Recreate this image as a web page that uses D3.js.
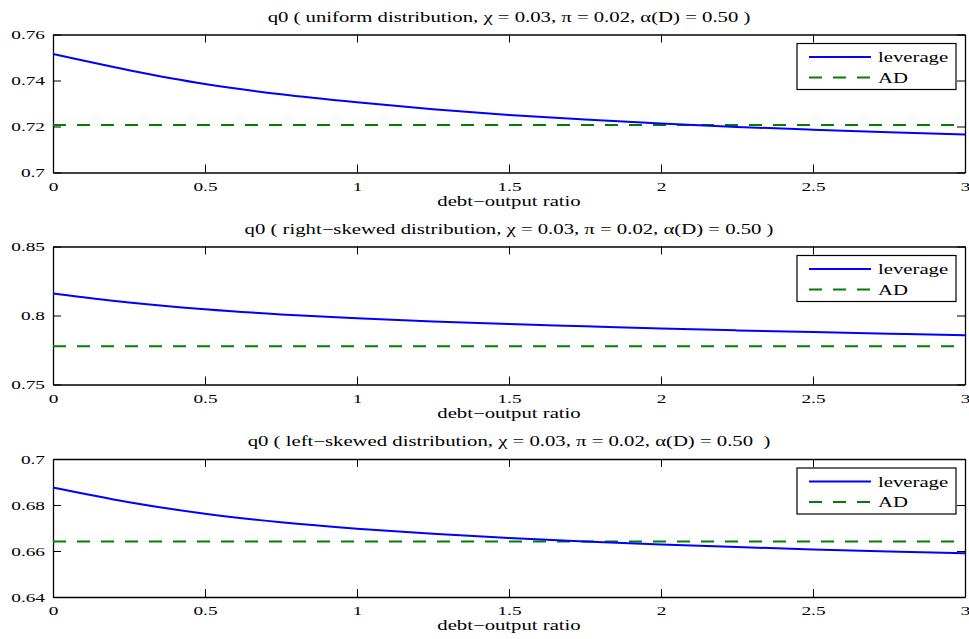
<!DOCTYPE html>
<html>
<head>
<meta charset="utf-8">
<script src="https://cdn.jsdelivr.net/npm/d3@7"></script>
<style>
body { margin: 0; background: #fff; }
svg { display: block; }
text { font-family: "Liberation Serif", "Times New Roman", "DejaVu Serif", serif; fill: #000; }
</style>
</head>
<body>
<script>
var width = 969;
var height = 639;

// data
var debtRatio = [0, 0.25, 0.5, 0.75, 1, 1.25, 1.5, 1.75, 2, 2.25, 2.5, 2.75, 3];
var xTicks = [0, 0.5, 1, 1.5, 2, 2.5, 3];
var xTickLabels = ["0", "0.5", "1", "1.5", "2", "2.5", "3"];

var titles = [
    "q0 ( uniform distribution, \u03c7 = 0.03, \u03c0 = 0.02, \u03b1(D) = 0.50 )",
    "q0 ( right\u2212skewed distribution, \u03c7 = 0.03, \u03c0 = 0.02, \u03b1(D) = 0.50 )",
    "q0 ( left\u2212skewed distribution, \u03c7 = 0.03, \u03c0 = 0.02, \u03b1(D) = 0.50 \u00a0)"
];
var yDomains = [[0.70, 0.76], [0.75, 0.85], [0.64, 0.70]];
var yTicks = [[0.70, 0.72, 0.74, 0.76], [0.75, 0.80, 0.85], [0.64, 0.66, 0.68, 0.70]];
var yTickLabels = [["0.7", "0.72", "0.74", "0.76"], ["0.75", "0.8", "0.85"], ["0.64", "0.66", "0.68", "0.7"]];

var leverage = [
    [0.7515, 0.7445, 0.7385, 0.7340, 0.7305, 0.7275, 0.7250, 0.7230, 0.7213, 0.7198, 0.7186, 0.7175, 0.7165],
    [0.8160, 0.8095, 0.8045, 0.8008, 0.7980, 0.7957, 0.7938, 0.7922, 0.7905, 0.7892, 0.7880, 0.7868, 0.7857],
    [0.6876, 0.6812, 0.6762, 0.6725, 0.6697, 0.6675, 0.6657, 0.6641, 0.6628, 0.6617, 0.6607, 0.6598, 0.6590]
];
var adLevel = [0.7207, 0.7777, 0.6641];

var seriesNames = ["leverage", "AD"];
var xLabel = "debt\u2212output ratio";

var left = 53, right = 965;
var panelTop = [34.5, 246.5, 459];
var panelH = 138;
var tickLen = 8;
var stretch = "scale(1.43,1)";   // the figure's text is drawn wide

var svg = d3.select("body")
    .append("svg")
    .attr("width", width)
    .attr("height", height);

var x = d3.scaleLinear().domain([0, 3]).range([left, right]);

titles.forEach(function(title, i) {
    var top = panelTop[i];
    var y = d3.scaleLinear().domain(yDomains[i]).range([top + panelH, top]);
    var g = svg.append("g");

    // ticks on all four sides, pointing in
    g.append("g")
        .attr("transform", "translate(0," + (top + panelH) + ")")
        .call(d3.axisBottom(x).tickValues(xTicks).tickSizeInner(-tickLen).tickSizeOuter(0).tickPadding(8.5)
            .tickFormat(function(d, k) { return xTickLabels[k]; }))
        .call(style)
        .selectAll(".tick text").attr("transform", stretch);
    g.append("g")
        .attr("transform", "translate(0," + top + ")")
        .call(d3.axisTop(x).tickValues(xTicks).tickSizeInner(-tickLen).tickSizeOuter(0).tickFormat(""))
        .call(style);
    g.append("g")
        .attr("transform", "translate(" + left + ",0)")
        .call(d3.axisLeft(y).tickValues(yTicks[i]).tickSizeInner(-tickLen).tickSizeOuter(0)
            .tickFormat(function(d, k) { return yTickLabels[i][k]; }))
        .call(style)
        .selectAll(".tick text").attr("x", 0).attr("transform", "translate(-8,0) " + stretch);
    g.append("g")
        .attr("transform", "translate(" + right + ",0)")
        .call(d3.axisRight(y).tickValues(yTicks[i]).tickSizeInner(-tickLen).tickSizeOuter(0).tickFormat(""))
        .call(style);

    var line = d3.line()
        .x(function(d, k) { return x(debtRatio[k]); })
        .y(function(d) { return y(d); })
        .curve(d3.curveMonotoneX);

    g.append("path")
        .datum(debtRatio.map(function() { return adLevel[i]; }))
        .attr("d", line)
        .attr("fill", "none")
        .attr("stroke", "#008000")
        .attr("stroke-width", 2)
        .attr("stroke-dasharray", "13,11");

    g.append("path")
        .datum(leverage[i])
        .attr("d", line)
        .attr("fill", "none")
        .attr("stroke", "#0000ff")
        .attr("stroke-width", 2);

    g.append("text")
        .attr("transform", "translate(" + ((left + right) / 2) + "," + (top - 13) + ") " + stretch)
        .attr("text-anchor", "middle")
        .attr("font-size", "14.5px")
        .text(title);

    g.append("text")
        .attr("transform", "translate(" + ((left + right) / 2) + "," + (top + panelH + 33) + ") " + stretch)
        .attr("text-anchor", "middle")
        .attr("font-size", "14.5px")
        .text(xLabel);

    // legend
    var lg = g.append("g").attr("transform", "translate(797," + (top + 9) + ")");
    lg.append("rect")
        .attr("width", 159).attr("height", 46)
        .attr("fill", "#fff").attr("stroke", "#000").attr("stroke-width", 1.2);
    seriesNames.forEach(function(name, k) {
        var ly = 13.5 + k * 20.5;
        lg.append("line")
            .attr("x1", 12).attr("x2", 74).attr("y1", ly).attr("y2", ly)
            .attr("stroke", k === 0 ? "#0000ff" : "#008000")
            .attr("stroke-width", 2)
            .attr("stroke-dasharray", k === 0 ? null : "13,11");
        lg.append("text")
            .attr("transform", "translate(81," + (ly + 5) + ") " + stretch)
            .attr("font-size", "14.5px")
            .text(name);
    });
});

function style(sel) {
    sel.select(".domain").attr("stroke", "#000").attr("stroke-width", 1.3);
    sel.selectAll(".tick line").attr("stroke", "#000");
    sel.selectAll(".tick text")
        .style("font-family", "'Liberation Serif', 'Times New Roman', serif")
        .attr("font-size", "13.5px")
        .attr("fill", "#000");
}
</script>
</body>
</html>
